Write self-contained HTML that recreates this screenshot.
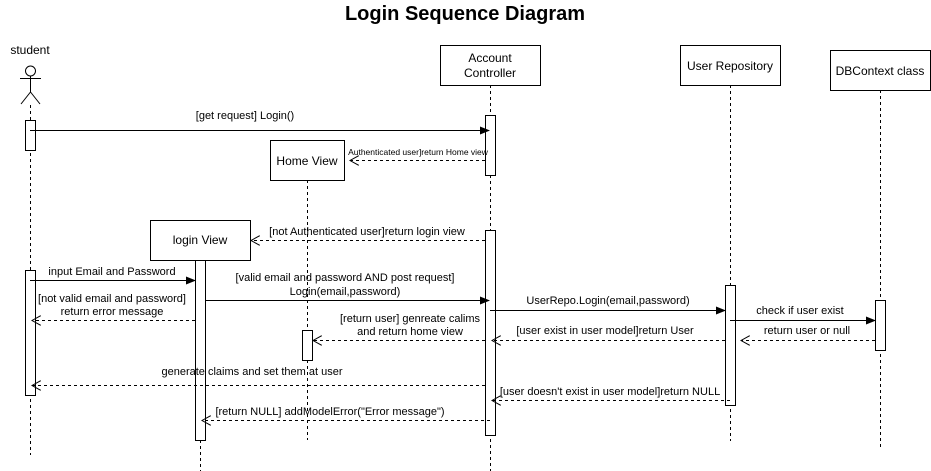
<!DOCTYPE html>
<html><head><meta charset="utf-8"><style>
html,body{margin:0;padding:0;background:#fff;}
svg{display:block;font-family:"Liberation Sans",Arial,sans-serif;}
</style></head><body>
<svg width="931" height="471" viewBox="0 0 931 471" xmlns="http://www.w3.org/2000/svg">
<defs>
<marker id="f" markerWidth="10" markerHeight="8" refX="9" refY="4" orient="auto" markerUnits="userSpaceOnUse"><path d="M0,0 L10,4 L0,8 Z" fill="#000"/></marker>
<marker id="o" markerWidth="10" markerHeight="10" refX="9" refY="5" orient="auto" markerUnits="userSpaceOnUse"><path d="M0,0 L9,5 L0,10" fill="none" stroke="#000" stroke-width="1"/></marker>
</defs>
<rect width="931" height="471" fill="#fff"/>
<text x="465" y="20" text-anchor="middle" font-size="20" font-weight="bold">Login Sequence Diagram</text>

<g stroke="#000" stroke-width="1" fill="none" stroke-dasharray="3,3">
<line x1="30.5" y1="105" x2="30.5" y2="455"/>
<line x1="490.5" y1="85" x2="490.5" y2="471"/>
<line x1="307.5" y1="180" x2="307.5" y2="440"/>
<line x1="200.5" y1="260" x2="200.5" y2="471"/>
<line x1="730.5" y1="85" x2="730.5" y2="441"/>
<line x1="880.5" y1="90" x2="880.5" y2="450"/>
</g>

<g stroke="#000" stroke-width="1" fill="none">
<circle cx="30.5" cy="71" r="5"/>
<line x1="30.5" y1="76" x2="30.5" y2="92"/>
<line x1="20" y1="78.5" x2="41" y2="78.5"/>
<line x1="30.5" y1="92" x2="21" y2="104"/>
<line x1="30.5" y1="92" x2="40" y2="104"/>
</g>
<text x="30" y="54" text-anchor="middle" font-size="12">student</text>

<g stroke="#000" stroke-width="1" fill="#fff">
<rect x="440.5" y="45.5" width="100" height="40"/>
<rect x="270.5" y="140.5" width="74" height="40"/>
<rect x="150.5" y="220.5" width="100" height="40"/>
<rect x="680.5" y="45.5" width="100" height="40"/>
<rect x="830.5" y="50.5" width="100" height="40"/>
<rect x="25.5" y="120.5" width="10" height="30"/>
<rect x="25.5" y="270.5" width="10" height="125"/>
<rect x="485.5" y="115.5" width="10" height="60"/>
<rect x="485.5" y="230.5" width="10" height="205"/>
<rect x="195.5" y="260.5" width="10" height="180"/>
<rect x="302.5" y="330.5" width="10" height="30"/>
<rect x="725.5" y="285.5" width="10" height="120"/>
<rect x="875.5" y="300.5" width="10" height="50"/>
</g>
<g font-size="12" text-anchor="middle">
<text x="490" y="62">Account</text>
<text x="490" y="77">Controller</text>
<text x="307" y="165">Home View</text>
<text x="200" y="244">login View</text>
<text x="730" y="70">User Repository</text>
<text x="880" y="75">DBContext class</text>
</g>

<g stroke="#000" stroke-width="1" fill="none">
<line x1="30" y1="130.5" x2="489" y2="130.5" marker-end="url(#f)"/>
<line x1="30" y1="280.5" x2="195" y2="280.5" marker-end="url(#f)"/>
<line x1="205" y1="300.5" x2="489" y2="300.5" marker-end="url(#f)"/>
<line x1="490" y1="310.5" x2="725" y2="310.5" marker-end="url(#f)"/>
<line x1="730" y1="320.5" x2="875" y2="320.5" marker-end="url(#f)"/>
</g>
<g stroke="#000" stroke-width="1" fill="none" stroke-dasharray="3,3">
<line x1="485" y1="160.5" x2="350" y2="160.5" marker-end="url(#o)"/>
<line x1="485" y1="240.5" x2="251" y2="240.5" marker-end="url(#o)"/>
<line x1="195" y1="320.5" x2="32" y2="320.5" marker-end="url(#o)"/>
<line x1="725" y1="340.5" x2="492" y2="340.5" marker-end="url(#o)"/>
<line x1="875" y1="340.5" x2="741" y2="340.5" marker-end="url(#o)"/>
<line x1="485" y1="340.5" x2="313" y2="340.5" marker-end="url(#o)"/>
<line x1="485" y1="385.5" x2="32" y2="385.5" marker-end="url(#o)"/>
<line x1="730" y1="400.5" x2="492" y2="400.5" marker-end="url(#o)"/>
<line x1="490" y1="420.5" x2="202" y2="420.5" marker-end="url(#o)"/>
</g>

<g font-size="11" text-anchor="middle" fill="#000">
<text x="245" y="119">[get request] Login()</text>
<text x="418" y="155" font-size="8.5">Authenticated user]return Home view</text>
<text x="367" y="235">[not Authenticated user]return login view</text>
<text x="112" y="275">input Email and Password</text>
<text x="345" y="281">[valid email and password AND post request]</text>
<text x="345" y="295">Login(email,password)</text>
<text x="112" y="302">[not valid email and password]</text>
<text x="112" y="315">return error message</text>
<text x="608" y="304">UserRepo.Login(email,password)</text>
<text x="800" y="314">check if user exist</text>
<text x="605" y="334">[user exist in user model]return User</text>
<text x="807" y="334">return user or null</text>
<text x="410" y="322">[return user] genreate calims</text>
<text x="410" y="335">and return home view</text>
<text x="252" y="375">generate claims and set them at user</text>
<text x="610" y="395">[user doesn't exist in user model]return NULL</text>
<text x="330" y="415">[return NULL] addModelError("Error message")</text>
</g>
</svg>
</body></html>
